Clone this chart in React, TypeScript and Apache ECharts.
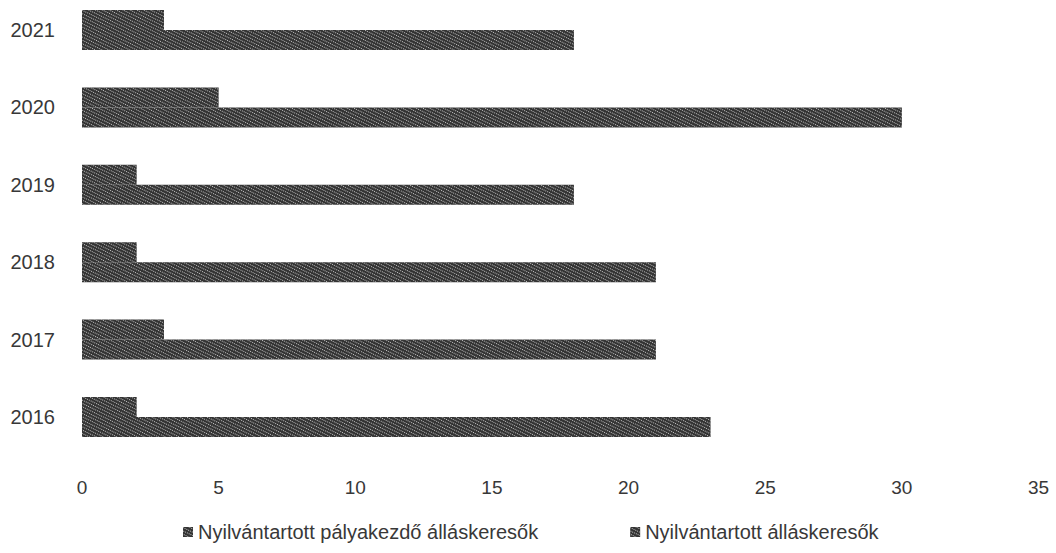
import React, { useEffect, useRef } from "react";
import * as echarts from "echarts";

const years = ["2016", "2017", "2018", "2019", "2020", "2021"];
const seriesNames = ["Nyilvántartott pályakezdő álláskeresők", "Nyilvántartott álláskeresők"];
const palyakezdo = [2, 3, 2, 2, 5, 3];
const allaskeresok = [23, 21, 21, 18, 30, 18];
const xTicks = { min: 0, max: 35, interval: 5 };

const FONT = "'Liberation Sans', Arial, sans-serif";
const decal = {
  symbol: "rect",
  symbolSize: 1,
  dashArrayX: [1, 1],
  dashArrayY: [1, 1.5],
  rotation: 0.45,
  color: "rgba(255,255,255,0.7)",
};

export default function App() {
  const ref = useRef<HTMLDivElement>(null);
  useEffect(() => {
    if (!ref.current) return;
    const chart = echarts.init(ref.current, undefined, { renderer: "svg" });
    const barStyle = { color: "#333333", decal };
    chart.setOption({
      animation: false,
      backgroundColor: "#ffffff",
      grid: {
        left: 82,
        right: 17.5,
        top: -8.7,
        height: 464.4,
        containLabel: false,
        outerBoundsMode: "none",
      },
      legend: {
        data: seriesNames,
        bottom: 6,
        left: 178,
        itemWidth: 10,
        itemHeight: 10,
        itemGap: 92,
        icon: "rect",
        textStyle: { fontFamily: FONT, fontSize: 20, color: "#383838" },
      },
      xAxis: {
        type: "value",
        min: xTicks.min,
        max: xTicks.max,
        interval: xTicks.interval,
        axisLine: { show: false },
        axisTick: { show: false },
        splitLine: { show: false },
        axisLabel: { margin: 22, fontFamily: FONT, fontSize: 19, color: "#383838" },
      },
      yAxis: {
        type: "category",
        data: years,
        axisLine: { show: false },
        axisTick: { show: false },
        splitLine: { show: false },
        axisLabel: { margin: 27, fontFamily: FONT, fontSize: 20, color: "#383838" },
      },
      series: [
        {
          name: seriesNames[0],
          type: "bar",
          data: palyakezdo,
          barWidth: 20,
          barGap: "0%",
          itemStyle: barStyle,
        },
        {
          name: seriesNames[1],
          type: "bar",
          data: allaskeresok,
          barWidth: 20,
          barGap: "0%",
          itemStyle: barStyle,
        },
      ],
    });
    return () => chart.dispose();
  }, []);
  return (
    <div
      ref={ref}
      style={{ position: "fixed", left: 0, top: 0, width: 1056, height: 553, background: "#fff" }}
    />
  );
}
